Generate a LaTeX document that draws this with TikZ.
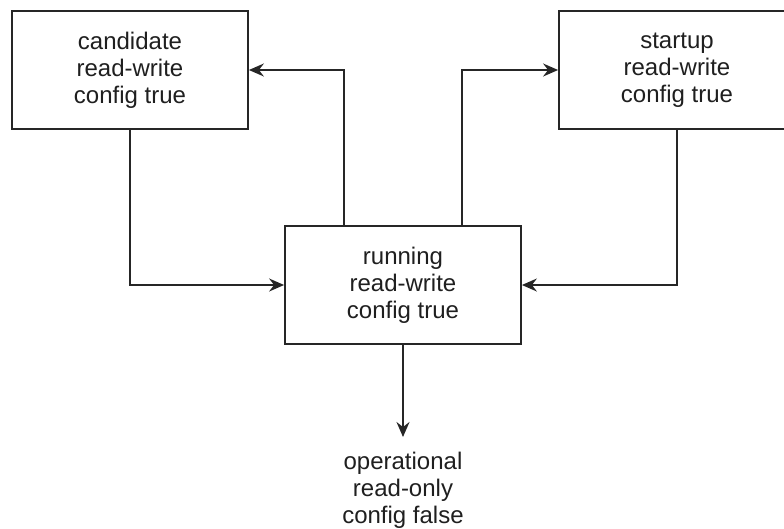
\documentclass[tikz,border=0pt]{standalone}
\usepackage{fontspec}
\setmainfont{Liberation Sans}
\usetikzlibrary{arrows.meta,calc}

\begin{document}
\begin{tikzpicture}[x=1pt,y=-1pt,
  every node/.style={font=\fontsize{24}{27}\selectfont, align=center, text=black!88},
  store/.style={draw=black!85, line width=1.8pt, fill=white,
    minimum width=236pt, minimum height=118pt, inner sep=0pt},
  flow/.style={draw=black!85, line width=1.8pt,
    -{Stealth[length=15pt,width=13pt,inset=5pt]}},
  plain/.style={inner xsep=0pt, inner ysep=14.5pt}
]
  \useasboundingbox (0,0) rectangle (784,528);
  \clip (0,0) rectangle (784,528);

  % datastores
  \node[store] (cand) at (130,70) {candidate\\read-write\\config true};
  \node[store] (start) at (677,70) {startup\\read-write\\config true};
  \node[store] (run) at (403,285) {running\\read-write\\config true};
  \node[plain, anchor=north] (oper) at (403,437) {operational\\read-only\\config false};

  % connectors
  \draw[flow] ($(run.north)+(-59,0)$) |- (cand.east);
  \draw[flow] ($(run.north)+(59,0)$) |- (start.west);
  \draw[flow] (cand.south) |- (run.west);
  \draw[flow] (start.south) |- (run.east);
  \draw[flow] (run.south) -- (oper.north);
\end{tikzpicture}
\end{document}
